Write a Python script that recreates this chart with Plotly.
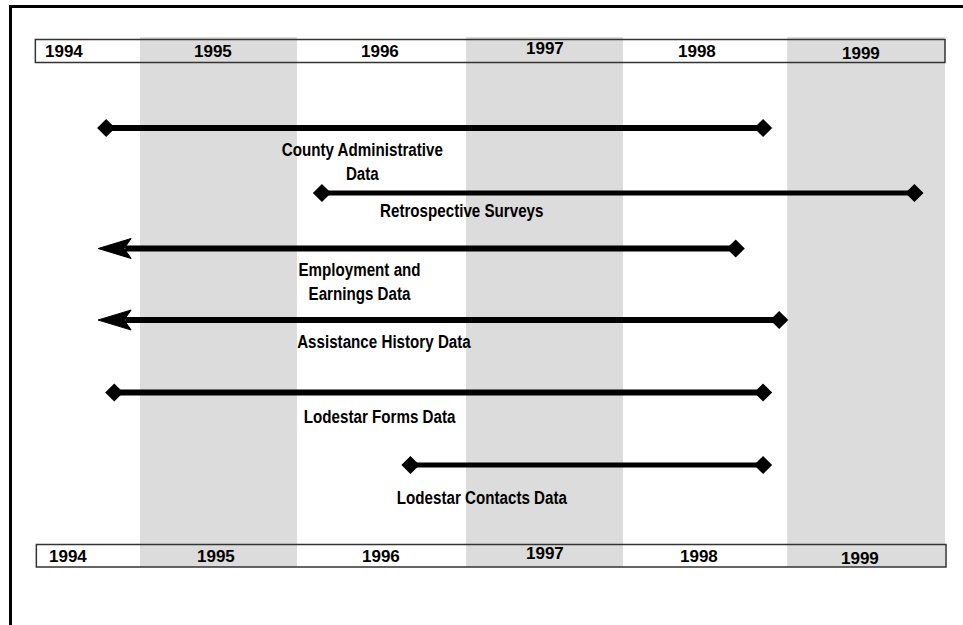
import plotly.graph_objects as go

# ---------------- data ----------------
years = ["1994", "1995", "1996", "1997", "1998", "1999"]
year_edges = [1994.35, 1995.0, 1995.975, 1997.025, 1998.0, 1999.02, 2000.0]
shaded = [False, True, False, True, False, True]

datasets = ["County Administrative<br>Data", "Retrospective Surveys",
            "Employment and<br>Earnings Data", "Assistance History Data",
            "Lodestar Forms Data", "Lodestar Contacts Data"]
start_year = [1994.79, 1996.13, 1994.74, 1994.74, 1994.84, 1996.68]
end_year = [1998.87, 1999.81, 1998.70, 1998.97, 1998.87, 1998.87]
open_start = [False, False, True, True, False, False]

# ---------------- layout constants ----------------
W, H = 963, 625
PX_PER_YEAR = 161.0


def yr(px):
    return 1995 + (px - 140) / PX_PER_YEAR


row_y = [128, 193, 248.5, 320, 392.5, 465]
line_w = [6, 5, 6, 6, 6, 5]
label_x_px = [362, 462, 359, 384.5, 380, 482]
label_y = [161, 210, 281, 341.7, 416.7, 497]

top_lab_x = [64, 213, 380, 545, 697, 861]
top_lab_y = [51, 51.5, 51, 48, 51, 53]
bot_lab_x = [68, 215.5, 380.5, 545, 699, 860]
bot_lab_y = [556, 556, 556, 553, 556, 558]

LABEL_FONT = dict(family="Liberation Sans Narrow, Arial Narrow, Liberation Sans, Arial",
                  size=18.5, color="black")
YEAR_FONT = dict(family="Liberation Sans, Arial", size=17, color="black")
SHADE = "#dcdcdc"

fig = go.Figure()

# dataset labels first (annotation indices 0..5)
for i, name in enumerate(datasets):
    fig.add_annotation(x=yr(label_x_px[i]), y=label_y[i], text="<b>" + name.replace("<br>", "</b><br><b>") + "</b>",
                       showarrow=False, font=LABEL_FONT, xanchor="center", yanchor="middle",
                       align="center")

# timelines
for i, name in enumerate(datasets):
    y = row_y[i]
    x0, x1 = start_year[i], end_year[i]
    shaft_start = x0 + (27 / PX_PER_YEAR if open_start[i] else 0)
    fig.add_trace(go.Scatter(x=[shaft_start, x1], y=[y, y], mode="lines",
                             line=dict(color="black", width=line_w[i]),
                             hoverinfo="skip", showlegend=False))
    mx = [x1] if open_start[i] else [x0, x1]
    fig.add_trace(go.Scatter(x=mx, y=[y] * len(mx), mode="markers",
                             marker=dict(symbol="diamond", size=14, color="black"),
                             hoverinfo="skip", showlegend=False))
    if open_start[i]:
        ax = [x0, x0 + 33 / PX_PER_YEAR, x0 + 26 / PX_PER_YEAR, x0 + 33 / PX_PER_YEAR, x0]
        ay = [y, y - 10, y, y + 10, y]
        fig.add_trace(go.Scatter(x=ax, y=ay, mode="lines", fill="toself",
                                 fillcolor="black", line=dict(color="black", width=1),
                                 hoverinfo="skip", showlegend=False))

shapes = []
for i, s in enumerate(shaded):
    if s:
        shapes.append(dict(type="rect", xref="x", yref="y", x0=year_edges[i], x1=year_edges[i + 1],
                           y0=37, y1=567, fillcolor=SHADE, line=dict(width=0), layer="below"))
shapes.append(dict(type="rect", xref="x", yref="y", x0=year_edges[0], x1=year_edges[-1],
                   y0=39.5, y1=62.5, line=dict(color="#333333", width=1.5)))
shapes.append(dict(type="rect", xref="x", yref="y", x0=year_edges[0] + 1 / PX_PER_YEAR,
                   x1=year_edges[-1] + 1 / PX_PER_YEAR,
                   y0=544.5, y1=567, line=dict(color="#333333", width=1.5)))
shapes.append(dict(type="line", xref="paper", yref="paper", x0=9 / W, x1=1.0,
                   y0=1 - 6.5 / H, y1=1 - 6.5 / H, line=dict(color="black", width=3)))
shapes.append(dict(type="line", xref="paper", yref="paper", x0=10.5 / W, x1=10.5 / W,
                   y0=1 - 5 / H, y1=0, line=dict(color="black", width=3)))

for i, lab in enumerate(years):
    fig.add_annotation(x=yr(top_lab_x[i]), y=top_lab_y[i], text="<b>" + lab + "</b>", showarrow=False,
                       font=YEAR_FONT, xanchor="center", yanchor="middle")
    fig.add_annotation(x=yr(bot_lab_x[i]), y=bot_lab_y[i], text="<b>" + lab + "</b>", showarrow=False,
                       font=YEAR_FONT, xanchor="center", yanchor="middle")

fig.update_layout(
    width=W, height=H,
    margin=dict(l=0, r=0, t=0, b=0),
    paper_bgcolor="white", plot_bgcolor="white",
    shapes=shapes,
    xaxis=dict(range=[yr(0), yr(W)], visible=False, fixedrange=True),
    yaxis=dict(range=[H, 0], visible=False, fixedrange=True),
    showlegend=False,
)

sel = ", ".join('g.annotation[data-index="%d"] text.annotation-text' % i for i in range(len(datasets)))
css = ("body{margin:0;overflow:hidden;} " + sel +
       "{transform-box:fill-box;transform-origin:50% 50%;transform:scaleX(0.82);}")
post = ("var s=document.createElement('style');s.textContent=%r;document.head.appendChild(s);" % css)

fig.write_html("out.html", post_script=post, config={"displayModeBar": False})
